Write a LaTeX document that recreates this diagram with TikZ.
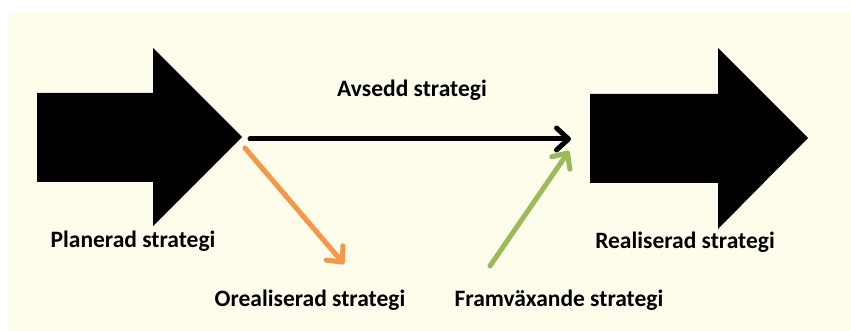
\documentclass[tikz,border=0pt]{standalone}
\usepackage{fontspec}
\setmainfont{Carlito}
\usetikzlibrary{arrows.meta}
\definecolor{paper}{HTML}{FEFCEA}
\definecolor{orangeline}{HTML}{F79646}
\definecolor{greenline}{HTML}{9BBB59}
\tikzset{
  bigarrow/.style={fill=black, draw=none},
  label/.style={font=\bfseries\fontsize{23.5}{28}\selectfont, text=black, inner sep=0pt, anchor=center},
  flow/.style={line width=5pt, line cap=round,
    -{Straight Barb[length=12pt, width=22pt, line cap=round, line join=round]}},
}
\begin{document}
\begin{tikzpicture}[x=1pt, y=-1pt]
  % canvas and cream panel
  \useasboundingbox (0,0) rectangle (851,331);
  \fill[white] (0,0) rectangle (851,331);
  \fill[paper] (8,12) rectangle (851,331);

  % block arrows
  \fill[bigarrow] (37,93) -- (153,93) -- (153,48) -- (242,137) -- (153,226)
    -- (153,182) -- (37,182) -- cycle;
  \fill[bigarrow] (590,94) -- (718,94) -- (718,48) -- (808,138) -- (718,229)
    -- (718,183) -- (590,183) -- cycle;

  % anchor points of the connectors
  \coordinate (planTip) at (250,139);
  \coordinate (realIn) at (571,139);
  \coordinate (orStart) at (245,148);
  \coordinate (orEnd) at (344,264);
  \coordinate (frStart) at (490,266);
  \coordinate (frEnd) at (569,151);

  \draw[flow, black] (planTip) -- (realIn);
  \draw[flow, orangeline] (orStart) -- (orEnd);
  \draw[flow, greenline] (frStart) -- (frEnd);

  % texts
  \node[label] (avsedd) at (412,90) {Avsedd strategi};
  \node[label] (planerad) at (133,241) {Planerad strategi};
  \node[label] (realiserad) at (685,242) {Realiserad strategi};
  \node[label] (orealiserad) at (310,300) {Orealiserad strategi};
  \node[label] (framvaxande) at (559,300) {Framväxande strategi};
\end{tikzpicture}
\end{document}
